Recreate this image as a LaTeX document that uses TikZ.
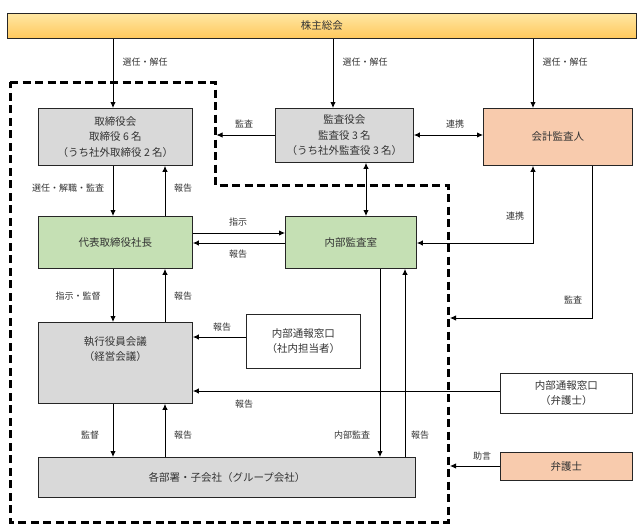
\documentclass[tikz,border=0pt]{standalone}
\usepackage{fontspec}
\setmainfont{Noto Sans CJK JP}
\usetikzlibrary{arrows.meta,calc}
\definecolor{txt}{HTML}{333333}
\definecolor{grayfill}{HTML}{D9D9D9}
\definecolor{greenfill}{HTML}{C5E0B4}
\definecolor{peach}{HTML}{F8CBAD}
\definecolor{ytop}{HTML}{FFE7A3}
\definecolor{ybot}{HTML}{FFC85C}
\tikzset{
  box/.style={draw=black!85, line width=0.9pt, minimum height=#1, inner sep=0pt, align=center, text=txt, font=\fontsize{10.5}{14}\selectfont},
  box/.default=50pt,
  lbl/.style={text=txt, font=\fontsize{9}{10}\selectfont, inner sep=1pt},
  arr/.style={line width=0.9pt, -{Latex[length=6pt,width=5.5pt]}},
  darr/.style={line width=0.9pt, {Latex[length=6pt,width=5.5pt]}-{Latex[length=6pt,width=5.5pt]}},
  ln/.style={line width=0.9pt},
}
\begin{document}
\begin{tikzpicture}[x=1pt,y=-1pt]
\useasboundingbox (0,0) rectangle (643,531);
% dashed boundary
\draw[line width=3pt, dash pattern=on 8pt off 4.5pt] (10,82) -- (215,82) -- (215,185) -- (448,185) -- (448,522) -- (10,522) -- cycle;
% shareholders
\node[box, minimum width=629pt, minimum height=25pt, top color=ytop, bottom color=ybot, anchor=north west] (kabu) at (7,13) {株主総会};
% boxes
\node[box, fill=grayfill, minimum width=154pt, minimum height=57pt, anchor=north west, font=\fontsize{10.5}{15.5}\selectfont] (tori) at (38,108) {取締役会\\取締役 6 名\\（うち社外取締役 2 名）};
\node[box, fill=grayfill, minimum width=138pt, minimum height=54pt, anchor=north west, font=\fontsize{10.5}{15.5}\selectfont] (kansa) at (275,108) {監査役会\\監査役 3 名\\（うち社外監査役 3 名）};
\node[box, fill=peach, minimum width=149pt, minimum height=57pt, anchor=north west] (kaikei) at (483,108) {会計監査人};
\node[box, fill=greenfill, minimum width=154pt, minimum height=52pt, anchor=north west] (shacho) at (38,216) {代表取締役社長};
\node[box, fill=greenfill, minimum width=131pt, minimum height=52pt, anchor=north west] (naibu) at (285,216) {内部監査室};
\node[box, fill=grayfill, minimum width=154pt, minimum height=81pt, anchor=north west, font=\fontsize{10.5}{15}\selectfont] (shikko) at (38,322) {執行役員会議\\（経営会議）\\[14pt]};
\node[box, fill=white, minimum width=114pt, minimum height=54pt, anchor=north west, font=\fontsize{10.5}{15}\selectfont] (tsuho1) at (246,314) {内部通報窓口\\（社内担当者）};
\node[box, fill=white, minimum width=132pt, minimum height=40pt, anchor=north west, font=\fontsize{10.5}{15}\selectfont] (tsuho2) at (500,373) {内部通報窓口\\（弁護士）};
\node[box, fill=grayfill, minimum width=377pt, minimum height=40pt, anchor=north west] (kaku) at (38,457) {各部署・子会社（グループ会社）};
\node[box, fill=peach, minimum width=132pt, minimum height=28pt, anchor=north west] (bengo) at (500,452) {弁護士};
% coordinates
\coordinate (dashA) at (216.5,135);
\coordinate (dashB) at (450,318);
\coordinate (dashC) at (450,466);
\coordinate (c1) at (533,243);
\coordinate (c2) at (592,318);
% shareholder arrows
\draw[arr] (kabu.south -| 113,0) -- (tori.north -| 113,0);
\draw[arr] (kabu.south -| 333,0) -- (kansa.north -| 333,0);
\draw[arr] (kabu.south -| 533,0) -- (kaikei.north -| 533,0);
\node[lbl] (l1) at (145,62) {選任・解任};
\node[lbl] (l2) at (365,62) {選任・解任};
\node[lbl] (l3) at (565,62) {選任・解任};
% 監査役会
\draw[arr] (kansa.west |- 0,135) -- (dashA);
\node[lbl] (l4) at (244,124) {監査};
\draw[darr] (kansa.east |- 0,135) -- (kaikei.west |- 0,135);
\node[lbl] (l5) at (455,124) {連携};
\draw[darr] (kansa.south -| 366,0) -- (naibu.north -| 366,0);
% 取締役会 <-> 社長
\draw[arr] (tori.south -| 113,0) -- (shacho.north -| 113,0);
\draw[arr] (shacho.north -| 165,0) -- (tori.south -| 165,0);
\node[lbl] (l6) at (68,188) {選任・解職・監査};
\node[lbl] (l7) at (183,188) {報告};
% 社長 <-> 内部監査室
\draw[arr] (shacho.east |- 0,233) -- (naibu.west |- 0,233);
\draw[arr] (naibu.west |- 0,243) -- (shacho.east |- 0,243);
\node[lbl] (l8) at (238,222) {指示};
\node[lbl] (l9) at (238,254) {報告};
% 会計監査人 <-> 内部監査室
\draw[darr] (naibu.east |- c1) -- (c1) -- (kaikei.south -| c1);
\node[lbl] (l10) at (515,216) {連携};
\draw[arr] (kaikei.south -| c2) -- (c2) -- (dashB);
\node[lbl] (l11) at (573,300) {監査};
% 社長 <-> 執行
\draw[arr] (shacho.south -| 113,0) -- (shikko.north -| 113,0);
\draw[arr] (shikko.north -| 165,0) -- (shacho.south -| 165,0);
\node[lbl] (l12) at (78,296) {指示・監督};
\node[lbl] (l13) at (183,296) {報告};
% 通報
\draw[arr] (tsuho1.west |- 0,337) -- (shikko.east |- 0,337);
\node[lbl] (l14) at (222,327) {報告};
\draw[arr] (tsuho2.west |- 0,391) -- (shikko.east |- 0,391);
\node[lbl] (l15) at (244,404) {報告};
% 内部監査室 <-> 各部署
\draw[arr] (naibu.south -| 380,0) -- (kaku.north -| 380,0);
\draw[arr] (kaku.north -| 405,0) -- (naibu.south -| 405,0);
\node[lbl] (l16) at (352,435) {内部監査};
\node[lbl] (l17) at (420,435) {報告};
% 執行 <-> 各部署
\draw[arr] (shikko.south -| 113,0) -- (kaku.north -| 113,0);
\draw[arr] (kaku.north -| 165,0) -- (shikko.south -| 165,0);
\node[lbl] (l18) at (90,435) {監督};
\node[lbl] (l19) at (183,435) {報告};
% 弁護士
\draw[arr] (bengo.west |- dashC) -- (dashC);
\node[lbl] (l20) at (482,456) {助言};
\end{tikzpicture}
\end{document}
